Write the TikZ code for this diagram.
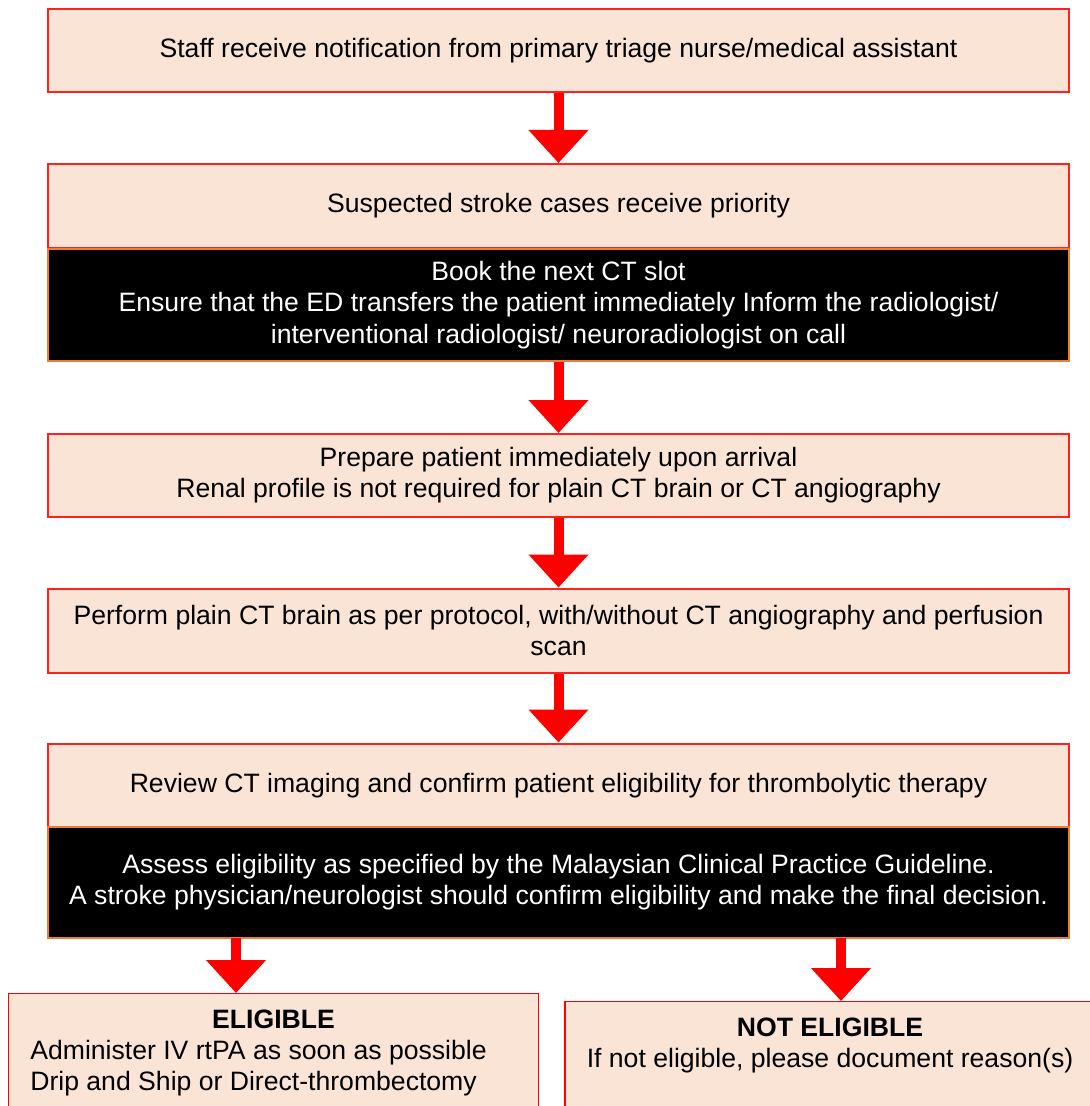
\documentclass[tikz,border=0pt]{standalone}
\usepackage{fontspec}
\setmainfont{Liberation Sans}
\usepackage{tikz}
\usetikzlibrary{arrows.meta}
\definecolor{peach}{RGB}{250,228,214}
\definecolor{boxred}{RGB}{255,32,32}
\definecolor{arrowred}{RGB}{255,0,0}
\definecolor{darkorange}{RGB}{237,125,49}
\newcommand{\boxfont}{\fontsize{13.3}{15.6}\selectfont}
\tikzset{
  pinkbox/.style={draw=boxred, fill=peach, line width=1pt, minimum width=510.5pt, align=center, inner sep=0pt, font=\boxfont},
  darkbox/.style={draw=darkorange, fill=black, text=white, line width=0.6pt, minimum width=510.5pt, align=center, inner sep=0pt, font=\boxfont},
  endbox/.style={draw=arrowred, fill=peach, line width=0.6pt, anchor=north, align=center, inner xsep=0pt, inner ysep=8pt, text depth=70pt, minimum width=265pt, font=\boxfont},
  redarrow/.style={draw=arrowred, line width=5pt, -{Triangle[width=29pt,length=16.5pt]}}
}
\begin{document}
\begin{tikzpicture}[x=0.5pt,y=-0.5pt]
\useasboundingbox (0,0) rectangle (1089,1106);

\node[pinkbox, minimum height=41.5pt] (notify) at (558.5,50.5) {Staff receive notification from primary triage nurse/medical assistant};
\node[pinkbox, minimum height=42pt] (priority) at (558.5,206) {Suspected stroke cases receive priority};
\node[darkbox, minimum height=56pt] (booking) at (558.5,305) {Book the next CT slot\\Ensure that the ED transfers the patient immediately Inform the radiologist/\\interventional radiologist/ neuroradiologist on call};
\node[pinkbox, minimum height=41.5pt] (prepare) at (558.5,475.5) {Prepare patient immediately upon arrival\\Renal profile is not required for plain CT brain or CT angiography};
\node[pinkbox, minimum height=42pt] (perform) at (558.5,630.5) {Perform plain CT brain as per protocol, with/without CT angiography and perfusion\\scan};
\node[pinkbox, minimum height=42pt] (review) at (558.5,785.5) {Review CT imaging and confirm patient eligibility for thrombolytic therapy};
\node[darkbox, minimum height=55.5pt] (assess) at (558.5,882.5) {Assess eligibility as specified by the Malaysian Clinical Practice Guideline.\\A stroke physician/neurologist should confirm eligibility and make the final decision.};

\node[endbox] (eligible) at (273.5,993) {\textbf{ELIGIBLE}\\\begin{tabular}[t]{@{}l@{\hspace{15pt}}}Administer IV rtPA as soon as possible\\Drip and Ship or Direct-thrombectomy\end{tabular}};
\node[endbox] (noteligible) at (830,1001) {\textbf{NOT ELIGIBLE}\\If not eligible, please document reason(s)};

\coordinate (yesfork) at (236,938);
\coordinate (nofork) at (841,938);

\draw[redarrow] (notify.south) -- (priority.north);
\draw[redarrow] (booking.south) -- (prepare.north);
\draw[redarrow] (prepare.south) -- (perform.north);
\draw[redarrow] (perform.south) -- (review.north);
\draw[redarrow] (yesfork) -- (yesfork |- eligible.north);
\draw[redarrow] (nofork) -- (nofork |- noteligible.north);
\end{tikzpicture}
\end{document}
